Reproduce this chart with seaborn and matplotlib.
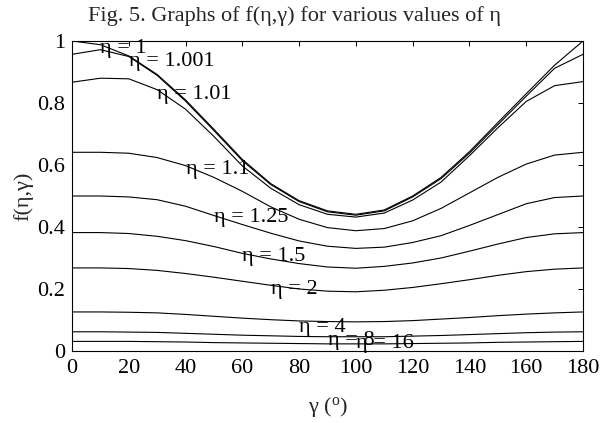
import numpy as np
import pandas as pd
import matplotlib
matplotlib.use("Agg")
import matplotlib.pyplot as plt
import seaborn as sns

# ---- data ----
gamma = [0, 10, 20, 30, 40, 50, 60, 70, 80, 90, 100, 110, 120, 130, 140, 150, 160, 170, 180]

f_eta_1 = [1.000, 0.988, 0.952, 0.892, 0.810, 0.715, 0.618, 0.540, 0.485, 0.452, 0.441,
           0.455, 0.500, 0.560, 0.643, 0.737, 0.830, 0.922, 1.000]
f_eta_1001 = [0.957, 0.972, 0.950, 0.889, 0.806, 0.711, 0.614, 0.537, 0.482, 0.449, 0.438,
              0.452, 0.497, 0.556, 0.638, 0.730, 0.822, 0.912, 0.957]
f_eta_101 = [0.867, 0.880, 0.878, 0.843, 0.780, 0.692, 0.597, 0.525, 0.472, 0.441, 0.432,
             0.445, 0.487, 0.545, 0.630, 0.720, 0.805, 0.856, 0.869]
f_eta_11 = [0.641, 0.641, 0.638, 0.624, 0.598, 0.560, 0.515, 0.465, 0.425, 0.398, 0.388,
            0.395, 0.420, 0.460, 0.510, 0.560, 0.603, 0.632, 0.641]
f_eta_125 = [0.500, 0.500, 0.497, 0.488, 0.467, 0.437, 0.408, 0.380, 0.355, 0.338, 0.331,
             0.335, 0.350, 0.372, 0.405, 0.440, 0.475, 0.495, 0.500]
f_eta_15 = [0.382, 0.382, 0.379, 0.370, 0.356, 0.337, 0.315, 0.297, 0.282, 0.271, 0.267,
            0.273, 0.284, 0.300, 0.322, 0.345, 0.366, 0.378, 0.382]
f_eta_2 = [0.268, 0.268, 0.266, 0.260, 0.250, 0.238, 0.225, 0.212, 0.200, 0.193, 0.191,
           0.196, 0.205, 0.217, 0.230, 0.244, 0.256, 0.264, 0.268]
f_eta_4 = [0.126, 0.126, 0.125, 0.123, 0.118, 0.112, 0.106, 0.101, 0.097, 0.095, 0.094,
           0.095, 0.098, 0.103, 0.108, 0.114, 0.119, 0.123, 0.126]
f_eta_8 = [0.062, 0.062, 0.061, 0.060, 0.057, 0.054, 0.051, 0.049, 0.047, 0.046, 0.046,
           0.046, 0.048, 0.050, 0.053, 0.056, 0.059, 0.061, 0.062]
f_eta_16 = [0.031, 0.031, 0.031, 0.030, 0.029, 0.027, 0.026, 0.025, 0.024, 0.023, 0.023,
            0.023, 0.024, 0.025, 0.026, 0.028, 0.029, 0.030, 0.031]

eta_names = ["1", "1.001", "1.01", "1.1", "1.25", "1.5", "2", "4", "8", "16"]
series = [f_eta_1, f_eta_1001, f_eta_101, f_eta_11, f_eta_125, f_eta_15,
          f_eta_2, f_eta_4, f_eta_8, f_eta_16]

# curve labels (data coordinates of label anchors)
label_gamma = [10, 20, 30, 40, 50, 60, 70, 80, 90, 100]
label_f = [0.977, 0.934, 0.829, 0.587, 0.431, 0.306, 0.197, 0.077, 0.035, 0.023]

x_ticks = [0, 20, 40, 60, 80, 100, 120, 140, 160, 180]
y_ticks = [0, 0.2, 0.4, 0.6, 0.8, 1.0]
y_ticklabels = ["0", "0.2", "0.4", "0.6", "0.8", "1"]

title = "Fig. 5. Graphs of f(η,γ) for various values of η"

# ---- build long-form table ----
rows = []
for name, vals in zip(eta_names, series):
    for g, v in zip(gamma, vals):
        rows.append({"gamma": g, "f": v, "eta": name})
df = pd.DataFrame(rows)

sns.set_theme(style="white")
plt.rcParams["font.family"] = ["Liberation Serif", "DejaVu Serif"]
plt.rcParams["mathtext.fontset"] = "custom"
plt.rcParams["mathtext.rm"] = "Liberation Serif"
plt.rcParams["mathtext.it"] = "Liberation Serif:italic"

FS = 16
fig = plt.figure(figsize=(6.0, 4.23), dpi=100)
ax = fig.add_axes([72 / 600, 72 / 423, 511 / 600, 310 / 423])

sns.lineplot(data=df, x="gamma", y="f", hue="eta", hue_order=eta_names,
             palette=["black"] * len(eta_names), legend=False, ax=ax,
             linewidth=0.8, sort=True, estimator=None)

for name, gx, fy in zip(eta_names, label_gamma, label_f):
    ax.text(gx, fy, "η = " + name, fontsize=FS, ha="left", va="center", color="black")

ax.set_xlim(0, 180)
ax.set_ylim(0, 1)
ax.set_xticks(x_ticks)
ax.set_xticklabels([str(t) for t in x_ticks])
ax.set_yticks(y_ticks)
ax.set_yticklabels(y_ticklabels)
ax.tick_params(direction="in", top=True, right=True, length=3.6, width=0.7,
               labelsize=FS, colors="black")
ax.tick_params(axis="x", pad=5.5)
ax.tick_params(axis="y", pad=5)
for sp in ax.spines.values():
    sp.set_visible(True)
    sp.set_color("black")
    sp.set_linewidth(0.8)

ax.set_xlabel(r"γ ($^{\mathrm{o}}$)", fontsize=FS)
ax.xaxis.set_label_coords(0.5, -0.18)
ax.xaxis.label.set_verticalalignment("center")
ax.set_ylabel("f(η,γ)", fontsize=FS)
ax.yaxis.set_label_coords(-0.096, 0.5)
ax.yaxis.label.set_verticalalignment("center")
fig.text(294 / 600, 1 - 20.5 / 423, title, fontsize=FS, ha="center", va="baseline")

fig.savefig("out.png", dpi=100)
